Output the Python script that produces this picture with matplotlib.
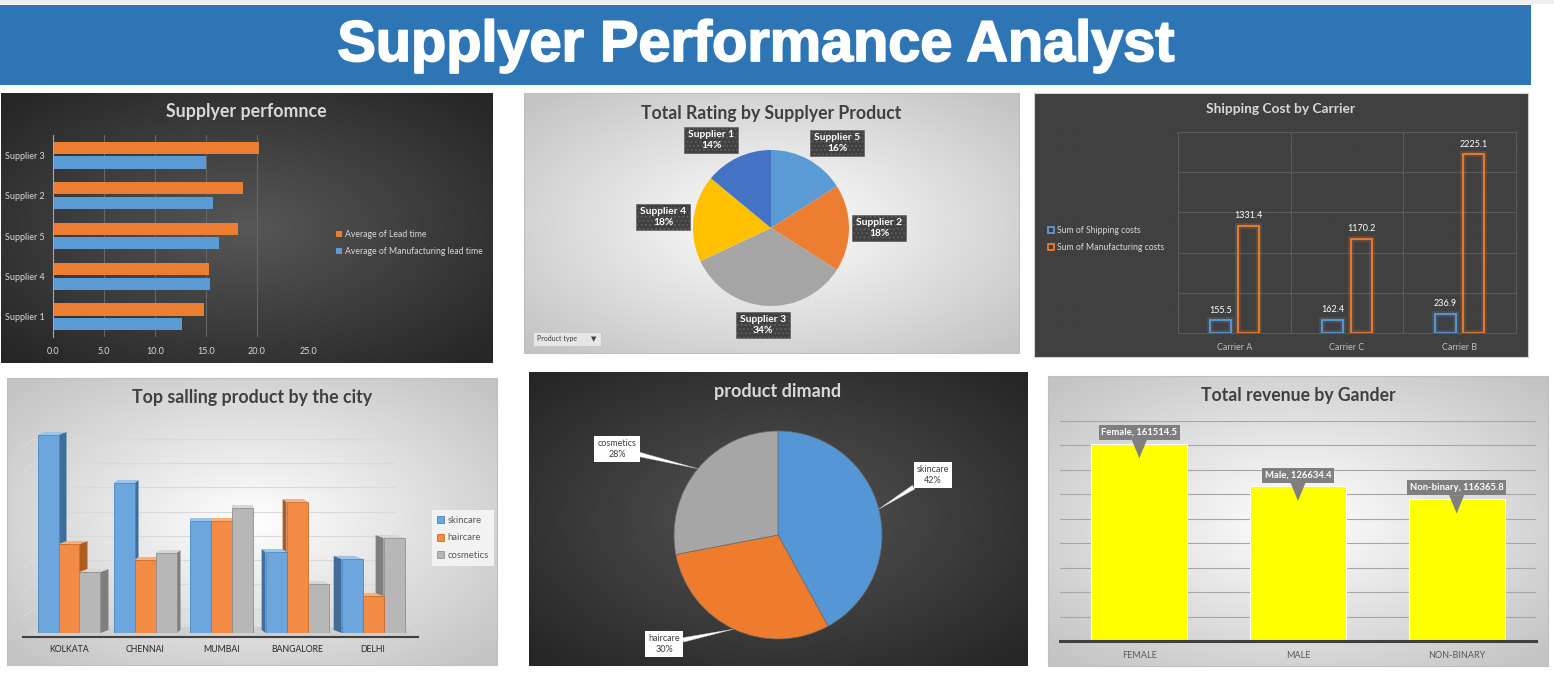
import numpy as np
import matplotlib
matplotlib.use('Agg')
import matplotlib.pyplot as plt
import matplotlib.colors as mcolors
import matplotlib.patheffects as pe
from matplotlib.patches import Rectangle, Patch
from matplotlib.ticker import FormatStrFormatter

plt.rcParams['font.family'] = ['Lato', 'DejaVu Sans']

W, H = 1554, 681

# supplier performance (bottom to top)
suppliers = ['Supplier 1', 'Supplier 4', 'Supplier 5', 'Supplier 2', 'Supplier 3']
lead_time = [14.8, 15.3, 18.1, 18.6, 20.2]
mfg_lead_time = [12.6, 15.4, 16.3, 15.7, 15.0]

# rating share by supplier (clockwise from 12 o'clock)
rating_suppliers = ['Supplier 5', 'Supplier 2', 'Supplier 3', 'Supplier 4', 'Supplier 1']
rating_pct = [16, 18, 34, 18, 14]

# shipping cost by carrier
carriers = ['Carrier A', 'Carrier C', 'Carrier B']
shipping_costs = [155.5, 162.4, 236.9]
manufacturing_costs = [1331.4, 1170.2, 2225.1]

# products sold by city
cities = ['KOLKATA', 'CHENNAI', 'MUMBAI', 'BANGALORE', 'DELHI']
products = ['skincare', 'haircare', 'cosmetics']
skincare_sold = [8150, 6170, 4610, 3330, 3050]
haircare_sold = [3660, 3000, 4610, 5390, 1520]
cosmetics_sold = [2510, 3290, 5140, 2020, 3910]

# product demand share
demand_products = ['skincare', 'haircare', 'cosmetics']
demand_pct = [42, 30, 28]

# revenue by gender
genders = ['Female', 'Male', 'Non-binary']
gender_ticks = ['FEMALE', 'MALE', 'NON-BINARY']
revenue = [161514.5, 126634.4, 116365.8]


fig = plt.figure(figsize=(W / 100, H / 100), dpi=100)
fig.patch.set_facecolor('white')


def rect(x0, y0, x1, y1):
    return [x0 / W, 1 - y1 / H, (x1 - x0) / W, (y1 - y0) / H]


def panel(x0, y0, x1, y1, inner, outer, edge=None):
    ax = fig.add_axes(rect(x0, y0, x1, y1), zorder=0)
    yy, xx = np.mgrid[-1:1:120j, -1:1:200j]
    rr = np.clip(np.hypot(xx, yy) / 1.35, 0, 1)
    c0 = np.array(mcolors.to_rgb(inner))
    c1 = np.array(mcolors.to_rgb(outer))
    ax.imshow(c0 + (c1 - c0) * rr[..., None], extent=(0, 1, 0, 1),
              aspect='auto', interpolation='bilinear')
    ax.set_xlim(0, 1)
    ax.set_ylim(0, 1)
    ax.set_xticks([])
    ax.set_yticks([])
    for s in ax.spines.values():
        if edge is None:
            s.set_visible(False)
        else:
            s.set_color(edge)
            s.set_linewidth(0.8)
    return ax


def pix_axes(x0, y0, x1, y1):
    ax = fig.add_axes(rect(x0, y0, x1, y1), zorder=1)
    ax.set_xlim(x0, x1)
    ax.set_ylim(H - y1, H - y0)
    ax.axis('off')
    return ax


def title(x, y, text, color, size):
    fig.text(x / W, 1 - y / H, text, ha='center', va='center', color=color,
             fontsize=size, fontweight='bold')


# top strip and banner
fig.add_artist(Rectangle((0, 1 - 4 / H), 1, 4 / H, transform=fig.transFigure,
                         fc='#eeeeee', ec='none'))
fig.add_artist(Rectangle((0, 1 - 85 / H), 1531 / W, 80 / H, transform=fig.transFigure,
                         fc='#2E75B6', ec='none'))
fig.text(756 / W, 1 - 61 / H, 'Supplyer Performance Analyst', ha='center', va='baseline',
         fontsize=41.5, fontweight='bold', family='Liberation Sans', color='white',
         path_effects=[pe.withStroke(linewidth=1.3, foreground='white')])

# ---- Supplyer perfomnce ----
panel(1, 93, 493, 363, '#575757', '#262626')
ax1 = fig.add_axes(rect(53, 135, 308, 337), zorder=1)
ax1.set_facecolor('none')
y = np.arange(len(suppliers))
ax1.barh(y + 0.18, lead_time, height=0.3, color='#ED7D31', label='Average of Lead time')
ax1.barh(y - 0.18, mfg_lead_time, height=0.3, color='#5B9BD5',
         label='Average of Manufacturing lead time')
ax1.set_xlim(0, 25)
ax1.set_ylim(-0.5, 4.5)
ax1.set_xticks(np.arange(0, 26, 5))
ax1.xaxis.set_major_formatter(FormatStrFormatter('%.1f'))
ax1.set_yticks(y, suppliers)
ax1.grid(axis='x', color='#666666', lw=0.8)
ax1.set_axisbelow(True)
for k, s in ax1.spines.items():
    s.set_visible(k == 'left')
ax1.spines['left'].set_color('#a6a6a6')
ax1.tick_params(length=0, colors='#d9d9d9', labelsize=6.5)
ax1.tick_params(axis='x', pad=7)
ax1.tick_params(axis='y', pad=6)
ax1.legend(loc='center left', bbox_to_anchor=(328 / W, 1 - 243 / H), bbox_transform=fig.transFigure,
           frameon=False, fontsize=6.2, labelcolor='#d9d9d9', handlelength=0.7,
           handleheight=0.7, handletextpad=0.4, labelspacing=0.9)
title(246, 111, 'Supplyer perfomnce', '#d9d9d9', 12.8)

# ---- Total Rating by Supplyer Product ----
panel(524, 93, 1019, 353, '#ffffff', '#c4c4c4', edge='#bfbfbf')
ax2 = pix_axes(524, 93, 1019, 353)
cx2, cy2, r2 = 771, H - 228, 78
wedges2, _ = ax2.pie(rating_pct, colors=['#5B9BD5', '#ED7D31', '#A5A5A5', '#FFC000', '#4472C4'],
                     startangle=90, counterclock=False, center=(cx2, cy2), radius=r2)
ax2.set_xlim(524, 1019)
ax2.set_ylim(H - 353, H - 93)
ax2.set_aspect('auto')
rating_label_xy = [(837, 143), (879, 228), (763, 325), (663, 217), (711, 140)]
for name, pct, (lx, ly) in zip(rating_suppliers, rating_pct, rating_label_xy):
    ax2.text(lx, H - ly, f'{name}\n{pct}%', ha='center', va='center', color='white',
             fontsize=7.4, fontweight='bold', linespacing=1.25,
             bbox=dict(boxstyle='square,pad=0.35', fc='#404040', ec='#5c5c5c', lw=0.4, hatch='....'))
ax2.add_patch(Rectangle((533, H - 346), 68, 14, fc='#e6e6e6', ec='#c8c8c8', lw=0.6))
ax2.text(537, H - 339, 'Product type', ha='left', va='center', fontsize=5, color='#404040')
ax2.text(594, H - 339, '▼', ha='center', va='center', fontsize=5, color='#404040')
title(771, 113, 'Total Rating by Supplyer Product', '#404040', 12.7)

# ---- Shipping Cost by Carrier ----
panel(1034, 93, 1528, 357, '#404040', '#404040', edge='#d0d0d0')
ax3 = fig.add_axes(rect(1178, 132, 1516, 333), zorder=1)
ax3.set_facecolor('none')
xc = np.arange(len(carriers))
for vals, col, off, lab in [(shipping_costs, '#5B9BD5', -0.125, 'Sum of Shipping costs'),
                            (manufacturing_costs, '#ED7D31', 0.125, 'Sum of Manufacturing costs')]:
    ax3.bar(xc + off, vals, width=0.185, fill=False, edgecolor=col, lw=4, alpha=0.22)
    bars = ax3.bar(xc + off, vals, width=0.185, fill=False, edgecolor=col, lw=1.3, label=lab)
    ax3.bar_label(bars, fmt='%.1f', padding=4, color='white', fontsize=6.5)
ax3.set_ylim(0, 2500)
ax3.set_xlim(-0.5, 2.5)
ax3.set_yticks(np.arange(0, 2501, 500))
ax3.set_yticklabels([])
ax3.set_xticks(xc, carriers)
ax3.set_xticks([0.5, 1.5], minor=True)
ax3.grid(which='major', axis='y', color='#5a5a5a', lw=0.8)
ax3.grid(which='minor', axis='x', color='#5a5a5a', lw=0.8)
ax3.set_axisbelow(True)
for s in ax3.spines.values():
    s.set_color('#5a5a5a')
ax3.tick_params(which='both', length=0, labelsize=6.5, labelcolor='#bfbfbf', pad=7)
ax3.legend(loc='center left', bbox_to_anchor=(1040 / W, 1 - 239 / H), bbox_transform=fig.transFigure,
           frameon=False, fontsize=6.2, labelcolor='#d9d9d9', handlelength=0.7,
           handleheight=0.7, handletextpad=0.4, labelspacing=0.9)
title(1281, 109, 'Shipping Cost by Carrier', '#d9d9d9', 9.9)

# ---- Top salling product by the city (fake 3D columns) ----
panel(7, 378, 497, 665, '#ffffff', '#c4c4c4', edge='#bfbfbf')
ax4 = fig.add_axes(rect(23, 425, 418, 633), zorder=1)
ax4.set_facecolor('none')
ax4.set_xlim(-0.605, 4.59)
ax4.set_ylim(0, 8560)
for v in range(1000, 8001, 1000):
    ax4.plot([-0.6, -0.47], [v - 350, v], color='#d9d9d9', lw=0.8, zorder=0.5)
    ax4.plot([-0.47, 4.29], [v, v], color='#d9d9d9', lw=0.8, zorder=0.5)
ax4.fill([-0.605, 4.59, 4.45, -0.47], [-165, -165, 250, 250], fc='#cfcfcf', ec='none',
         clip_on=False, zorder=0.6)
ax4.plot([-0.605, 4.59], [-165, -165], color='#404040', lw=1.5, clip_on=False, zorder=0.7)

series = [skincare_sold, haircare_sold, cosmetics_sold]
front_c = ['#6CA6DD', '#F28B44', '#B7B7B7']
side_c = ['#3E6E9C', '#B05B20', '#7E7E7E']
top_c = ['#9CC3E8', '#F7AF7B', '#D6D6D6']
edge_c = ['#4A86BF', '#D06A24', '#8F8F8F']
bw, depth_x, depth_y = 0.276, 0.105, 125
z = 2
for i in range(len(cities)):
    d = depth_x * (2 - i) / 2
    order = range(3) if i <= 2 else reversed(range(3))
    for j in order:
        h = series[j][i]
        x0 = i + (j - 1.5) * bw
        x1 = x0 + bw
        if d > 0:
            ax4.fill([x1, x1 + d, x1 + d, x1], [0, depth_y, h + depth_y, h],
                     fc=side_c[j], ec='none', zorder=z)
        elif d < 0:
            ax4.fill([x0, x0 + d, x0 + d, x0], [0, depth_y, h + depth_y, h],
                     fc=side_c[j], ec='none', zorder=z)
        ax4.fill([x0, x1, x1 + d, x0 + d], [h, h, h + depth_y, h + depth_y],
                 fc=top_c[j], ec='none', zorder=z)
        ax4.bar(x0, h, width=bw, align='edge', color=front_c[j], edgecolor=edge_c[j],
                lw=0.6, zorder=z + 1)
        z += 2
ax4.set_xticks(range(len(cities)), cities)
ax4.set_yticks([])
for s in ax4.spines.values():
    s.set_visible(False)
ax4.tick_params(length=0, labelsize=6.3, labelcolor='#262626', pad=9)
ax4.legend(handles=[Patch(fc=f, ec=e, lw=0.6) for f, e in zip(front_c, edge_c)], labels=products,
           loc='center', bbox_to_anchor=(463 / W, 1 - 538 / H), bbox_transform=fig.transFigure,
           fontsize=6.8, labelcolor='#595959', frameon=True, facecolor='#f2f2f2',
           edgecolor='none', fancybox=False, framealpha=1, handlelength=0.7, handleheight=0.7,
           handletextpad=0.4, labelspacing=0.9, borderpad=0.6)
title(252, 398, 'Top salling product by the city', '#404040', 12.8)

# ---- product dimand ----
panel(529, 372, 1028, 666, '#555555', '#262626')
ax5 = pix_axes(529, 372, 1028, 666)
cx5, cy5, r5 = 778, H - 535, 104
wedges5, _ = ax5.pie(demand_pct, colors=['#5597D6', '#EF7B2D', '#A6A6A6'], startangle=90,
                     counterclock=False, center=(cx5, cy5), radius=r5,
                     wedgeprops=dict(edgecolor='#6b6b6b', linewidth=0.5))
ax5.set_xlim(529, 1028)
ax5.set_ylim(H - 666, H - 372)
ax5.set_aspect('auto')
demand_label_xy = [(933, 475), (664, 644), (617, 449)]
for w, name, pct, (lx, ly) in zip(wedges5, demand_products, demand_pct, demand_label_xy):
    ang = np.deg2rad((w.theta1 + w.theta2) / 2)
    ax5.annotate(f'{name}\n{pct}%', xy=(cx5 + r5 * np.cos(ang), cy5 + r5 * np.sin(ang)),
                 xytext=(lx, H - ly), ha='center', va='center', fontsize=6.5, color='#404040',
                 linespacing=1.3,
                 bbox=dict(boxstyle='square,pad=0.35', fc='white', ec='none'),
                 arrowprops=dict(arrowstyle='wedge,tail_width=0.5,shrink_factor=0.5',
                                 fc='white', ec='#bfbfbf', lw=0.3, shrinkA=0, shrinkB=0))
title(778, 391, 'product dimand', '#d9d9d9', 13)

# ---- Total revenue by Gander ----
panel(1048, 376, 1548, 666, '#ffffff', '#c4c4c4', edge='#bfbfbf')
ax6 = fig.add_axes(rect(1060, 421, 1536, 641), zorder=1)
ax6.set_facecolor('none')
xg = np.arange(len(genders))
ax6.bar(xg, revenue, width=0.605, color='#FFFF00', edgecolor='white', lw=0.8, zorder=2)
ax6.set_ylim(0, 180000)
ax6.set_xlim(-0.5, 2.5)
ax6.set_yticks(np.arange(0, 180001, 20000))
ax6.set_yticklabels([])
ax6.grid(axis='y', color='#a6a6a6', lw=0.8)
ax6.set_axisbelow(True)
for k, s in ax6.spines.items():
    s.set_visible(k == 'bottom')
ax6.spines['bottom'].set_color('#404040')
ax6.spines['bottom'].set_linewidth(2.2)
ax6.set_xticks(xg, gender_ticks)
ax6.tick_params(length=0, labelsize=6.5, labelcolor='#595959', pad=7)
for i, (g, v) in enumerate(zip(genders, revenue)):
    ax6.annotate(f'{g}, {v}', xy=(i, v - 12000), xytext=(i, v + 9000), ha='center', va='center',
                 fontsize=6.8, fontweight='bold', color='white', zorder=5,
                 bbox=dict(boxstyle='square,pad=0.3', fc='#7f7f7f', ec='none'),
                 arrowprops=dict(arrowstyle='wedge,tail_width=1.6,shrink_factor=0.5',
                                 fc='#7f7f7f', ec='none', shrinkA=0, shrinkB=0))
title(1298, 396, 'Total revenue by Gander', '#404040', 12.7)

fig.savefig('out.png', dpi=100)
